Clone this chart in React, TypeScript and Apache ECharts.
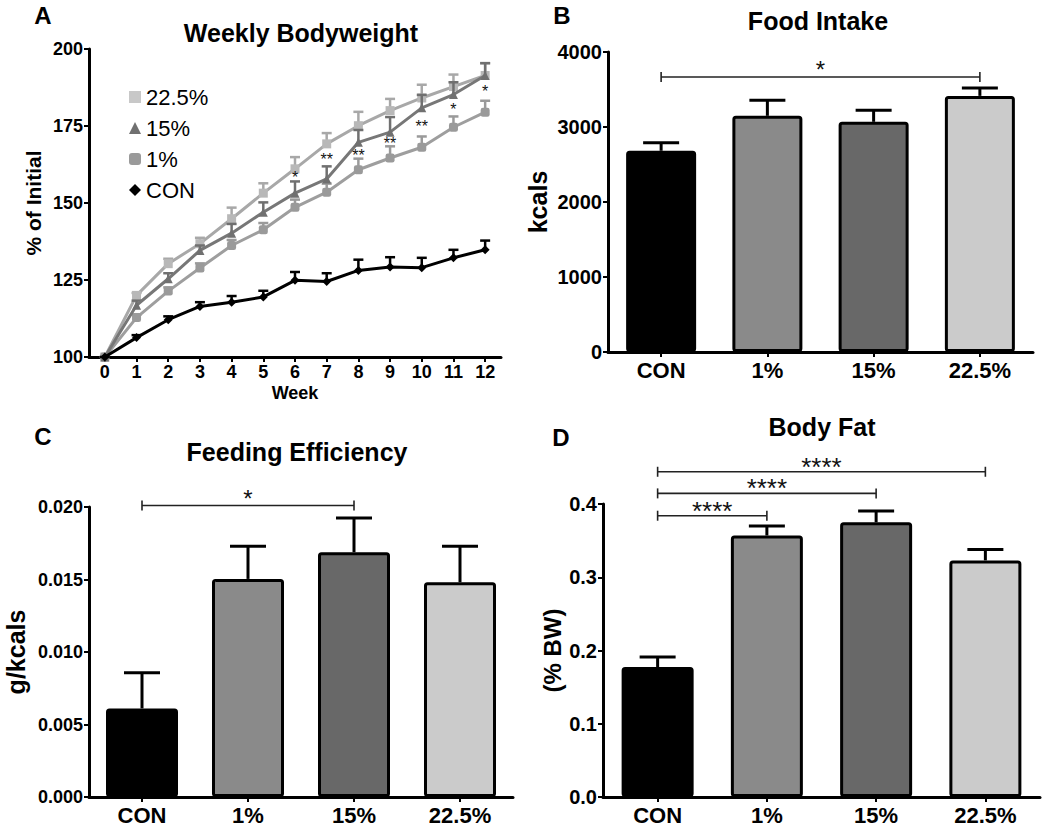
import React, { useEffect, useRef } from 'react';
import * as echarts from 'echarts';

const FONT = 'Arial, "Liberation Sans", Helvetica, sans-serif';

// Panel A – weekly bodyweight (% of initial)
const weeks = ['0', '1', '2', '3', '4', '5', '6', '7', '8', '9', '10', '11', '12'];
const conBW = [100, 106.3, 112.1, 116.4, 117.8, 119.5, 124.9, 124.5, 128.1, 129.2, 129.0, 132.2, 134.8];
const conBWErr = [0, 0.8, 1.1, 1.4, 2.0, 2.0, 2.7, 2.7, 3.5, 3.2, 3.2, 2.6, 3.0];
const p1BW = [100, 112.8, 121.4, 128.9, 136.2, 141.3, 148.6, 153.5, 160.8, 164.6, 168.1, 174.6, 179.5];
const p1BWErr = [0, 1.0, 1.2, 1.5, 1.8, 2.2, 2.5, 2.8, 3.6, 3.8, 3.5, 3.5, 3.7];
const p15BW = [100, 116.8, 125.4, 134.6, 140.2, 147.0, 153.2, 157.8, 169.7, 173.0, 180.9, 185.2, 191.4];
const p15BWErr = [0, 1.5, 1.8, 1.6, 3.0, 3.2, 3.8, 4.1, 4.0, 4.9, 4.2, 4.0, 4.0];
const p225BW = [100, 120.0, 130.3, 136.8, 144.9, 153.2, 161.1, 169.2, 175.1, 180.0, 184.1, 187.8, 191.4];
const p225BWErr = [0, 0.8, 1.6, 1.9, 3.6, 3.2, 3.8, 3.5, 4.5, 3.8, 4.3, 3.9, 4.0];
const sigWeeks = [6, 7, 8, 9, 10, 11, 12];
const sigWeekValues = [159.5, 165.4, 166.8, 170.5, 176.2, 181.6, 187.4];
const sigWeekLabels = ['*', '**', '**', '**', '**', '*', '*'];

// Bar panels
const groups = ['CON', '1%', '15%', '22.5%'];
const groupColors = ['#000000', '#8a8a8a', '#686868', '#cbcbcb'];

const foodMean = [2683, 3149, 3069, 3415];
const foodErr = [106, 208, 155, 106];
const foodSig = [[0, 3, 3667]];
const foodSigLabels = ['*'];

const effMean = [0.00611, 0.01504, 0.01688, 0.01481];
const effErr = [0.00246, 0.00225, 0.00236, 0.00248];
const effSig = [[0, 2, 0.0201]];
const effSigLabels = ['*'];

const fatMean = [0.1775, 0.357, 0.375, 0.323];
const fatErr = [0.0135, 0.013, 0.0155, 0.015];
const fatSig = [[0, 1, 0.384], [0, 2, 0.4145], [0, 3, 0.444]];
const fatSigLabels = ['****', '****', '****'];

function errRender(capHalf: number, lw: number, color: string) {
  return (params: any, api: any) => {
    const x = api.value(0);
    const m = api.value(1);
    const u = api.value(2);
    const p0 = api.coord([x, m]);
    const p1 = api.coord([x, u]);
    return {
      type: 'group',
      children: [
        { type: 'line', shape: { x1: p0[0], y1: p0[1], x2: p1[0], y2: p1[1] }, style: { stroke: color, lineWidth: lw } },
        { type: 'line', shape: { x1: p1[0] - capHalf, y1: p1[1], x2: p1[0] + capHalf, y2: p1[1] }, style: { stroke: color, lineWidth: lw } },
      ],
    };
  };
}

function sigRender(labels: string[], fontSize: number, textOffset: number) {
  return (params: any, api: any) => {
    const a = api.coord([api.value(0), api.value(2)]);
    const b = api.coord([api.value(1), api.value(2)]);
    const y = a[1];
    return {
      type: 'group',
      children: [
        { type: 'line', shape: { x1: a[0], y1: y, x2: b[0], y2: y }, style: { stroke: '#222', lineWidth: 1.6 } },
        { type: 'line', shape: { x1: a[0], y1: y - 5, x2: a[0], y2: y + 5 }, style: { stroke: '#222', lineWidth: 1.6 } },
        { type: 'line', shape: { x1: b[0], y1: y - 5, x2: b[0], y2: y + 5 }, style: { stroke: '#222', lineWidth: 1.6 } },
        {
          type: 'text',
          style: {
            text: labels[params.dataIndex],
            x: (a[0] + b[0]) / 2,
            y: y - textOffset,
            textAlign: 'center',
            textVerticalAlign: 'middle',
            fill: '#111',
            font: `${fontSize}px ${FONT}`,
          },
        },
      ],
    };
  };
}

const axisLine = { show: true, lineStyle: { color: '#000', width: 3 } };
const axisTick = { show: true, length: 5, lineStyle: { color: '#000', width: 2 } };
const tickLabel = (size: number, extra: any = {}) => ({
  color: '#000',
  fontFamily: FONT,
  fontWeight: 'bold',
  fontSize: size,
  ...extra,
});

function lineSeries(name: string, data: number[], lineColor: string, symColor: string, symbol: string, z: number) {
  return {
    type: 'line',
    name,
    xAxisIndex: 0,
    yAxisIndex: 0,
    data,
    symbol,
    symbolSize: 9,
    z,
    lineStyle: { color: lineColor, width: 3 },
    itemStyle: { color: symColor },
  };
}

function lineErr(mean: number[], err: number[], color: string, z: number) {
  return {
    type: 'custom',
    xAxisIndex: 0,
    yAxisIndex: 0,
    z,
    renderItem: errRender(5, 2.5, color),
    encode: { x: 0, y: [1, 2] },
    data: mean.map((m, i) => [i, m, m + err[i]]),
  };
}

function barSeries(idx: number, mean: number[], width: number) {
  return {
    type: 'bar',
    xAxisIndex: idx,
    yAxisIndex: idx,
    barWidth: width,
    z: 3,
    data: mean.map((v, i) => ({
      value: v,
      itemStyle: { color: groupColors[i], borderColor: '#000', borderWidth: 3, borderRadius: 2 },
    })),
  };
}

function barErr(idx: number, mean: number[], err: number[]) {
  return {
    type: 'custom',
    xAxisIndex: idx,
    yAxisIndex: idx,
    z: 2,
    renderItem: errRender(18, 3, '#000'),
    encode: { x: 0, y: [1, 2] },
    data: mean.map((m, i) => [i, m, m + err[i]]),
  };
}

function sigSeries(idx: number, data: number[][], labels: string[], fontSize: number, off: number) {
  return {
    type: 'custom',
    xAxisIndex: idx,
    yAxisIndex: idx,
    z: 4,
    clip: false,
    renderItem: sigRender(labels, fontSize, off),
    encode: { x: [0, 1], y: 2 },
    data,
  };
}

function catAxis(gridIndex: number) {
  return {
    type: 'category',
    gridIndex,
    data: groups,
    axisLine,
    axisTick: { ...axisTick, alignWithLabel: true },
    axisLabel: tickLabel(22, { margin: 7 }),
  };
}

function valAxis(gridIndex: number, min: number, max: number, interval: number, name: string, nameGap: number, nameSize: number, labelSize: number, digits: number) {
  return {
    type: 'value',
    gridIndex,
    min,
    max,
    interval,
    name,
    nameLocation: 'middle',
    nameRotate: 90,
    nameGap,
    nameTextStyle: { color: '#000', fontFamily: FONT, fontWeight: 'bold', fontSize: nameSize },
    axisLine,
    axisTick,
    splitLine: { show: false },
    axisLabel: tickLabel(labelSize, {
      margin: 6,
      formatter: (v: number) => v.toFixed(digits),
    }),
  };
}

function textEl(text: string, x: number, y: number, size: number) {
  return {
    type: 'text',
    x,
    y,
    style: {
      text,
      textAlign: 'center',
      textVerticalAlign: 'middle',
      fill: '#000',
      font: `bold ${size}px ${FONT}`,
    },
  };
}

export default function App() {
  const ref = useRef<HTMLDivElement>(null);
  useEffect(() => {
    if (!ref.current) return;
    const chart = echarts.init(ref.current, null, { renderer: 'svg' });
    const option: any = {
      animation: false,
      backgroundColor: '#ffffff',
      grid: [
        { left: 89, top: 49, width: 412, height: 308 },
        { left: 608, top: 52, width: 425, height: 300 },
        { left: 89, top: 507, width: 424, height: 291 },
        { left: 603, top: 504, width: 437, height: 294 },
      ],
      legend: {
        orient: 'vertical',
        left: 124,
        top: 81,
        itemGap: 9,
        itemWidth: 12,
        itemHeight: 12,
        selectedMode: false,
        textStyle: { color: '#000', fontFamily: FONT, fontSize: 22 },
        data: [
          { name: '22.5%', icon: 'rect', itemStyle: { color: '#c8c8c8' } },
          { name: '15%', icon: 'triangle', itemStyle: { color: '#707070' } },
          { name: '1%', icon: 'roundRect', itemStyle: { color: '#9a9a9a' } },
          { name: 'CON', icon: 'diamond', itemStyle: { color: '#000' } },
        ],
      },
      xAxis: [
        {
          type: 'category',
          gridIndex: 0,
          data: weeks,
          name: 'Week',
          nameLocation: 'middle',
          nameGap: 27,
          nameTextStyle: { color: '#000', fontFamily: FONT, fontWeight: 'bold', fontSize: 18 },
          axisLine,
          axisTick: { ...axisTick, alignWithLabel: true },
          axisLabel: tickLabel(18, { margin: 6 }),
        },
        catAxis(1),
        catAxis(2),
        catAxis(3),
      ],
      yAxis: [
        valAxis(0, 100, 200, 25, '% of Initial', 45, 21, 18, 0),
        valAxis(1, 0, 4000, 1000, 'kcals', 58, 25, 20, 0),
        valAxis(2, 0, 0.02, 0.005, 'g/kcals', 61, 25, 18, 3),
        valAxis(3, 0, 0.4, 0.1, '(% BW)', 39, 24, 20, 1),
      ],
      series: [
        lineErr(p225BW, p225BWErr, '#a8a8a8', 2),
        lineErr(p15BW, p15BWErr, '#707070', 3),
        lineErr(p1BW, p1BWErr, '#9a9a9a', 2),
        lineErr(conBW, conBWErr, '#000', 4),
        lineSeries('22.5%', p225BW, '#a8a8a8', '#b8b8b8', 'rect', 2),
        lineSeries('15%', p15BW, '#777777', '#707070', 'triangle', 3),
        lineSeries('1%', p1BW, '#9e9e9e', '#9a9a9a', 'roundRect', 2),
        lineSeries('CON', conBW, '#000', '#000', 'diamond', 4),
        {
          type: 'custom',
          xAxisIndex: 0,
          yAxisIndex: 0,
          z: 5,
          encode: { x: 0, y: 1 },
          data: sigWeeks.map((w, i) => [w, sigWeekValues[i]]),
          renderItem: (params: any, api: any) => {
            const p = api.coord([api.value(0), api.value(1)]);
            return {
              type: 'text',
              style: {
                text: sigWeekLabels[params.dataIndex],
                x: p[0],
                y: p[1] + 4,
                textAlign: 'center',
                textVerticalAlign: 'middle',
                fill: '#111',
                font: `16px ${FONT}`,
              },
            };
          },
        },
        barErr(1, foodMean, foodErr),
        barSeries(1, foodMean, 70),
        sigSeries(1, foodSig, foodSigLabels, 24, 7),
        barErr(2, effMean, effErr),
        barSeries(2, effMean, 72),
        sigSeries(2, effSig, effSigLabels, 24, 7),
        barErr(3, fatMean, fatErr),
        barSeries(3, fatMean, 72),
        sigSeries(3, fatSig, fatSigLabels, 26, 5),
      ],
      graphic: [
        textEl('A', 43, 15, 24),
        textEl('B', 562, 15, 24),
        textEl('C', 43, 436, 24),
        textEl('D', 561, 437, 24),
        textEl('Weekly Bodyweight', 301, 33, 25),
        textEl('Food Intake', 818, 21, 25),
        textEl('Feeding Efficiency', 297, 452, 25),
        textEl('Body Fat', 822, 427, 25),
      ],
    };
    chart.setOption(option);
    return () => chart.dispose();
  }, []);
  return (
    <div
      ref={ref}
      style={{ position: 'fixed', left: 0, top: 0, width: 1050, height: 826, background: '#fff' }}
    />
  );
}
